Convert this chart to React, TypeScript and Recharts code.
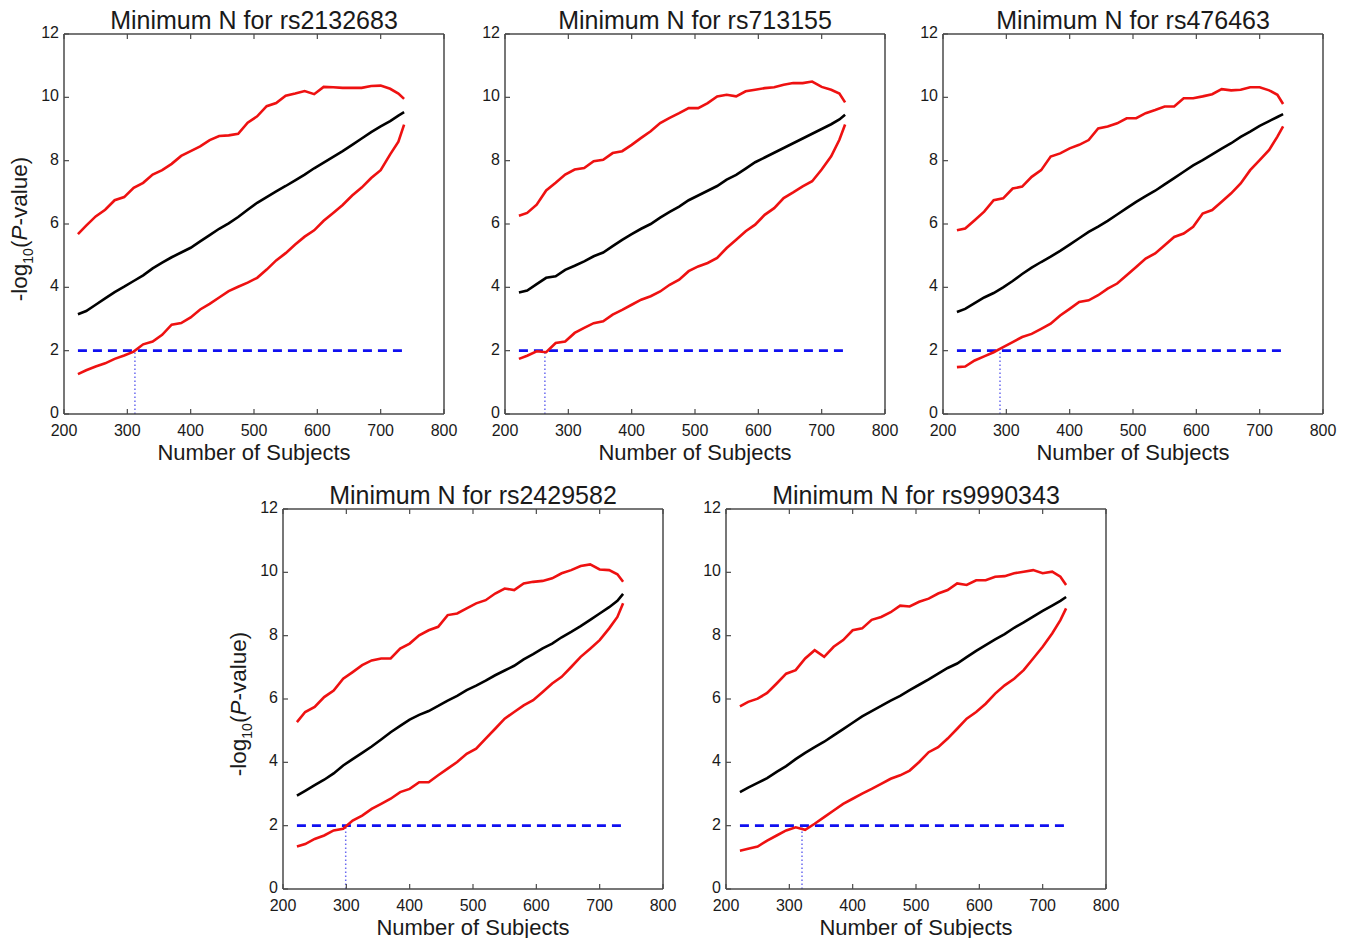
import React from 'react';
import { LineChart, Line, XAxis, YAxis, ReferenceLine } from 'recharts';

const FONT = '"Liberation Sans", Arial, Helvetica, sans-serif';

// Number of subjects (shared x grid)
const nGrid = [222, 235, 250, 265, 280, 295, 310, 325, 340, 355, 370, 385, 400, 415, 430, 445, 460, 475, 490, 505, 520, 535, 550, 565, 580, 595, 610, 625, 640, 655, 670, 685, 700, 715, 728, 737];
const xTicks = [200, 300, 400, 500, 600, 700, 800];
const yTicks = [0, 2, 4, 6, 8, 10, 12];
const threshold = 2;

// rs2132683
const p1Upper = [5.68, 5.95, 6.24, 6.45, 6.75, 6.85, 7.14, 7.3, 7.56, 7.7, 7.9, 8.15, 8.3, 8.45, 8.65, 8.78, 8.8, 8.85, 9.2, 9.4, 9.72, 9.82, 10.05, 10.12, 10.2, 10.1, 10.33, 10.32, 10.3, 10.3, 10.3, 10.36, 10.37, 10.27, 10.12, 9.95];
const p1Mid = [3.15, 3.25, 3.45, 3.65, 3.85, 4.02, 4.2, 4.38, 4.6, 4.78, 4.95, 5.1, 5.25, 5.45, 5.65, 5.85, 6.02, 6.22, 6.45, 6.67, 6.85, 7.03, 7.2, 7.38, 7.56, 7.76, 7.94, 8.12, 8.3, 8.5, 8.7, 8.9, 9.08, 9.25, 9.42, 9.53];
const p1Lower = [1.26, 1.38, 1.5, 1.6, 1.74, 1.85, 1.97, 2.2, 2.29, 2.5, 2.82, 2.87, 3.05, 3.3, 3.48, 3.68, 3.88, 4.02, 4.15, 4.3, 4.56, 4.85, 5.08, 5.35, 5.6, 5.8, 6.1, 6.35, 6.6, 6.9, 7.15, 7.45, 7.7, 8.2, 8.6, 9.14];

// rs713155
const p2Upper = [6.26, 6.35, 6.61, 7.06, 7.3, 7.56, 7.72, 7.77, 7.98, 8.03, 8.24, 8.3, 8.5, 8.72, 8.93, 9.19, 9.35, 9.5, 9.66, 9.66, 9.82, 10.03, 10.08, 10.03, 10.19, 10.24, 10.29, 10.32, 10.4, 10.45, 10.45, 10.5, 10.33, 10.24, 10.12, 9.84];
const p2Mid = [3.84, 3.9, 4.1, 4.3, 4.35, 4.55, 4.68, 4.82, 4.98, 5.1, 5.3, 5.5, 5.68, 5.85, 6.0, 6.2, 6.38, 6.55, 6.75, 6.9, 7.05, 7.2, 7.4, 7.55, 7.75, 7.95, 8.1, 8.25, 8.4, 8.55, 8.7, 8.85, 9.0, 9.15, 9.3, 9.45];
const p2Lower = [1.74, 1.84, 1.98, 1.95, 2.24, 2.29, 2.56, 2.72, 2.87, 2.93, 3.14, 3.29, 3.45, 3.61, 3.72, 3.87, 4.08, 4.24, 4.51, 4.66, 4.77, 4.93, 5.24, 5.5, 5.77, 5.98, 6.29, 6.5, 6.82, 7.0, 7.19, 7.35, 7.72, 8.14, 8.66, 9.14];

// rs476463
const p3Upper = [5.8, 5.86, 6.12, 6.39, 6.75, 6.81, 7.12, 7.18, 7.49, 7.7, 8.13, 8.23, 8.39, 8.5, 8.65, 9.02, 9.08, 9.18, 9.34, 9.34, 9.5, 9.6, 9.71, 9.71, 9.97, 9.97, 10.03, 10.1, 10.26, 10.22, 10.24, 10.32, 10.32, 10.22, 10.08, 9.79];
const p3Mid = [3.22, 3.32, 3.5, 3.68, 3.82, 4.0, 4.2, 4.42, 4.62, 4.8, 4.97, 5.15, 5.35, 5.55, 5.75, 5.92, 6.1, 6.3, 6.5, 6.7, 6.88, 7.05, 7.25, 7.45, 7.65, 7.85, 8.02, 8.2, 8.38, 8.55, 8.75, 8.92, 9.1, 9.25, 9.38, 9.47];
const p3Lower = [1.48, 1.5, 1.69, 1.82, 1.95, 2.11, 2.27, 2.43, 2.53, 2.69, 2.85, 3.11, 3.32, 3.54, 3.59, 3.75, 3.96, 4.12, 4.38, 4.64, 4.91, 5.07, 5.33, 5.59, 5.7, 5.91, 6.33, 6.44, 6.7, 6.97, 7.28, 7.7, 8.02, 8.34, 8.76, 9.08];

// rs2429582
const p4Upper = [5.27, 5.59, 5.75, 6.06, 6.27, 6.64, 6.85, 7.07, 7.22, 7.28, 7.28, 7.59, 7.75, 8.01, 8.17, 8.28, 8.65, 8.7, 8.86, 9.02, 9.12, 9.33, 9.49, 9.44, 9.65, 9.7, 9.73, 9.81, 9.97, 10.07, 10.2, 10.25, 10.09, 10.07, 9.94, 9.7];
const p4Mid = [2.95, 3.1, 3.28, 3.45, 3.65, 3.9, 4.1, 4.3, 4.5, 4.72, 4.95, 5.15, 5.35, 5.5, 5.62, 5.78, 5.95, 6.1, 6.28, 6.42, 6.58, 6.75, 6.9, 7.05, 7.25, 7.42, 7.6, 7.75, 7.95, 8.12, 8.3, 8.5, 8.7, 8.9, 9.1, 9.32];
const p4Lower = [1.34, 1.42, 1.58, 1.69, 1.85, 1.9, 2.16, 2.32, 2.53, 2.69, 2.85, 3.06, 3.16, 3.37, 3.37, 3.59, 3.8, 4.01, 4.27, 4.43, 4.75, 5.06, 5.38, 5.59, 5.8, 5.96, 6.22, 6.49, 6.7, 7.01, 7.33, 7.59, 7.86, 8.23, 8.59, 9.02];

// rs9990343
const p5Upper = [5.77, 5.91, 6.01, 6.19, 6.49, 6.8, 6.91, 7.28, 7.54, 7.33, 7.65, 7.86, 8.17, 8.23, 8.5, 8.59, 8.74, 8.95, 8.92, 9.07, 9.17, 9.33, 9.44, 9.65, 9.6, 9.75, 9.75, 9.86, 9.88, 9.97, 10.02, 10.07, 9.97, 10.02, 9.86, 9.6];
const p5Mid = [3.06, 3.2, 3.35, 3.5, 3.7, 3.88, 4.1, 4.3, 4.48, 4.65, 4.85, 5.05, 5.25, 5.45, 5.62, 5.78, 5.95, 6.1, 6.28, 6.45, 6.62, 6.8, 6.98, 7.12, 7.32, 7.52, 7.7, 7.88, 8.05, 8.25, 8.42, 8.6, 8.78, 8.95, 9.1, 9.22];
const p5Lower = [1.21, 1.27, 1.34, 1.53, 1.69, 1.85, 1.95, 1.87, 2.06, 2.27, 2.48, 2.69, 2.85, 3.01, 3.16, 3.32, 3.48, 3.59, 3.74, 4.01, 4.32, 4.48, 4.75, 5.06, 5.38, 5.59, 5.85, 6.17, 6.43, 6.64, 6.91, 7.28, 7.65, 8.07, 8.49, 8.86];

const snps = ['rs2132683', 'rs713155', 'rs476463', 'rs2429582', 'rs9990343'];
const minN = [312, 263, 290, 299, 320];

const panels = [
  { snp: snps[0], upper: p1Upper, mid: p1Mid, lower: p1Lower, minN: minN[0], yLabel: true, left: 0, top: 0 },
  { snp: snps[1], upper: p2Upper, mid: p2Mid, lower: p2Lower, minN: minN[1], yLabel: false, left: 441, top: 0 },
  { snp: snps[2], upper: p3Upper, mid: p3Mid, lower: p3Lower, minN: minN[2], yLabel: false, left: 879, top: 0 },
  { snp: snps[3], upper: p4Upper, mid: p4Mid, lower: p4Lower, minN: minN[3], yLabel: true, left: 219, top: 475 },
  { snp: snps[4], upper: p5Upper, mid: p5Mid, lower: p5Lower, minN: minN[4], yLabel: false, left: 662, top: 475 },
];

const AXIS = '#4a4a4a';
const TXT = '#1a1a1a';
const TICK_FS = 16;

const BottomTick = (props: any) => {
  const { x, y, payload } = props;
  return (
    <g>
      <line x1={x} y1={y} x2={x} y2={y - 5} stroke={AXIS} strokeWidth={1.2} />
      <text x={x} y={y + 22} textAnchor="middle" fontSize={TICK_FS} fill={TXT} fontFamily={FONT}>{payload.value}</text>
    </g>
  );
};
const TopTick = (props: any) => {
  const { x, y } = props;
  return <line x1={x} y1={y} x2={x} y2={y + 5} stroke={AXIS} strokeWidth={1.2} />;
};
const LeftTick = (props: any) => {
  const { x, y, payload } = props;
  return (
    <g>
      <line x1={x} y1={y} x2={x + 5} y2={y} stroke={AXIS} strokeWidth={1.2} />
      <text x={x - 5} y={y + 4} textAnchor="end" fontSize={TICK_FS} fill={TXT} fontFamily={FONT}>{payload.value}</text>
    </g>
  );
};
const RightTick = (props: any) => {
  const { x, y } = props;
  return <line x1={x} y1={y} x2={x - 5} y2={y} stroke={AXIS} strokeWidth={1.2} />;
};

const titleLabel = (title: string) => (props: any) => {
  const vb = props && props.viewBox ? props.viewBox : { x: 64, y: 32, width: 380, height: 1 };
  return (
    <text x={vb.x + vb.width / 2} y={vb.y + vb.height - 5} textAnchor="middle" fontSize={25} fill={TXT} fontFamily={FONT}>
      {title}
    </text>
  );
};
const xLabel = (props: any) => {
  const vb = props && props.viewBox ? props.viewBox : { x: 64, y: 414, width: 380, height: 56 };
  return (
    <text x={vb.x + vb.width / 2} y={vb.y + 45.5} textAnchor="middle" fontSize={22} fill={TXT} fontFamily={FONT}>
      Number of Subjects
    </text>
  );
};
const yLabel = (props: any) => {
  const vb = props && props.viewBox ? props.viewBox : { x: 24, y: 33, width: 40, height: 381 };
  const cx = vb.x + 3;
  const cy = vb.y + vb.height / 2 + 5;
  return (
    <text x={cx} y={cy} textAnchor="middle" fontSize={22.5} fill={TXT} fontFamily={FONT} transform={`rotate(-90, ${cx}, ${cy})`}>
      <tspan>-log</tspan>
      <tspan fontSize={14} dy={6}>10</tspan>
      <tspan dy={-6}>(</tspan>
      <tspan fontStyle="italic">P</tspan>
      <tspan>-value)</tspan>
    </text>
  );
};

const Panel = ({ p }: { p: any }) => {
  const data = nGrid.map((n, i) => ({ n, upper: p.upper[i], mid: p.mid[i], lower: p.lower[i] }));
  const nFirst = nGrid[0];
  const nLast = nGrid[nGrid.length - 1];
  return (
    <div style={{ position: 'absolute', left: p.left, top: p.top, width: 460, height: 470 }}>
      <LineChart width={460} height={470} data={data} margin={{ top: 33, right: 15, bottom: 0, left: 24 }}>
        <XAxis
          xAxisId="b"
          dataKey="n"
          type="number"
          domain={[200, 800]}
          ticks={xTicks}
          interval={0}
          height={56}
          tickSize={0}
          tickMargin={0}
          tickLine={false}
          tick={<BottomTick />}
          axisLine={{ stroke: AXIS, strokeWidth: 1.5 }}
          label={xLabel}
        />
        <XAxis
          xAxisId="t"
          orientation="top"
          dataKey="n"
          type="number"
          domain={[200, 800]}
          ticks={xTicks}
          interval={0}
          height={1}
          tickSize={0}
          tickMargin={0}
          tickLine={false}
          tick={<TopTick />}
          axisLine={{ stroke: AXIS, strokeWidth: 1.5 }}
          label={titleLabel(`Minimum N for ${p.snp}`)}
        />
        <YAxis
          yAxisId="l"
          type="number"
          domain={[0, 12]}
          ticks={yTicks}
          interval={0}
          width={40}
          tickSize={0}
          tickMargin={0}
          tickLine={false}
          tick={<LeftTick />}
          axisLine={{ stroke: AXIS, strokeWidth: 1.5 }}
          label={p.yLabel ? yLabel : undefined}
        />
        <YAxis
          yAxisId="r"
          orientation="right"
          type="number"
          domain={[0, 12]}
          ticks={yTicks}
          interval={0}
          width={1}
          tickSize={0}
          tickMargin={0}
          tickLine={false}
          tick={<RightTick />}
          axisLine={{ stroke: AXIS, strokeWidth: 1.5 }}
        />
        <ReferenceLine
          xAxisId="b"
          yAxisId="l"
          segment={[{ x: nFirst, y: threshold }, { x: nLast, y: threshold }]}
          stroke="#1010f0"
          strokeWidth={2.6}
          strokeDasharray="9 6"
        />
        <ReferenceLine
          xAxisId="b"
          yAxisId="l"
          segment={[{ x: p.minN, y: 0 }, { x: p.minN, y: threshold }]}
          stroke="#6a6af0"
          strokeWidth={1.5}
          strokeDasharray="1.5 2.5"
        />
        <Line xAxisId="b" yAxisId="l" type="linear" dataKey="upper" stroke="#ee1111" strokeWidth={2.6} dot={false} isAnimationActive={false} />
        <Line xAxisId="b" yAxisId="l" type="linear" dataKey="mid" stroke="#000000" strokeWidth={2.6} dot={false} isAnimationActive={false} />
        <Line xAxisId="b" yAxisId="l" type="linear" dataKey="lower" stroke="#ee1111" strokeWidth={2.6} dot={false} isAnimationActive={false} />
      </LineChart>
    </div>
  );
};

export default function App() {
  return (
    <div style={{ position: 'absolute', left: 0, top: 0, width: 1353, height: 938, background: '#ffffff', overflow: 'hidden', fontFamily: FONT }}>
      {panels.map((p) => (
        <Panel key={p.snp} p={p} />
      ))}
    </div>
  );
}
